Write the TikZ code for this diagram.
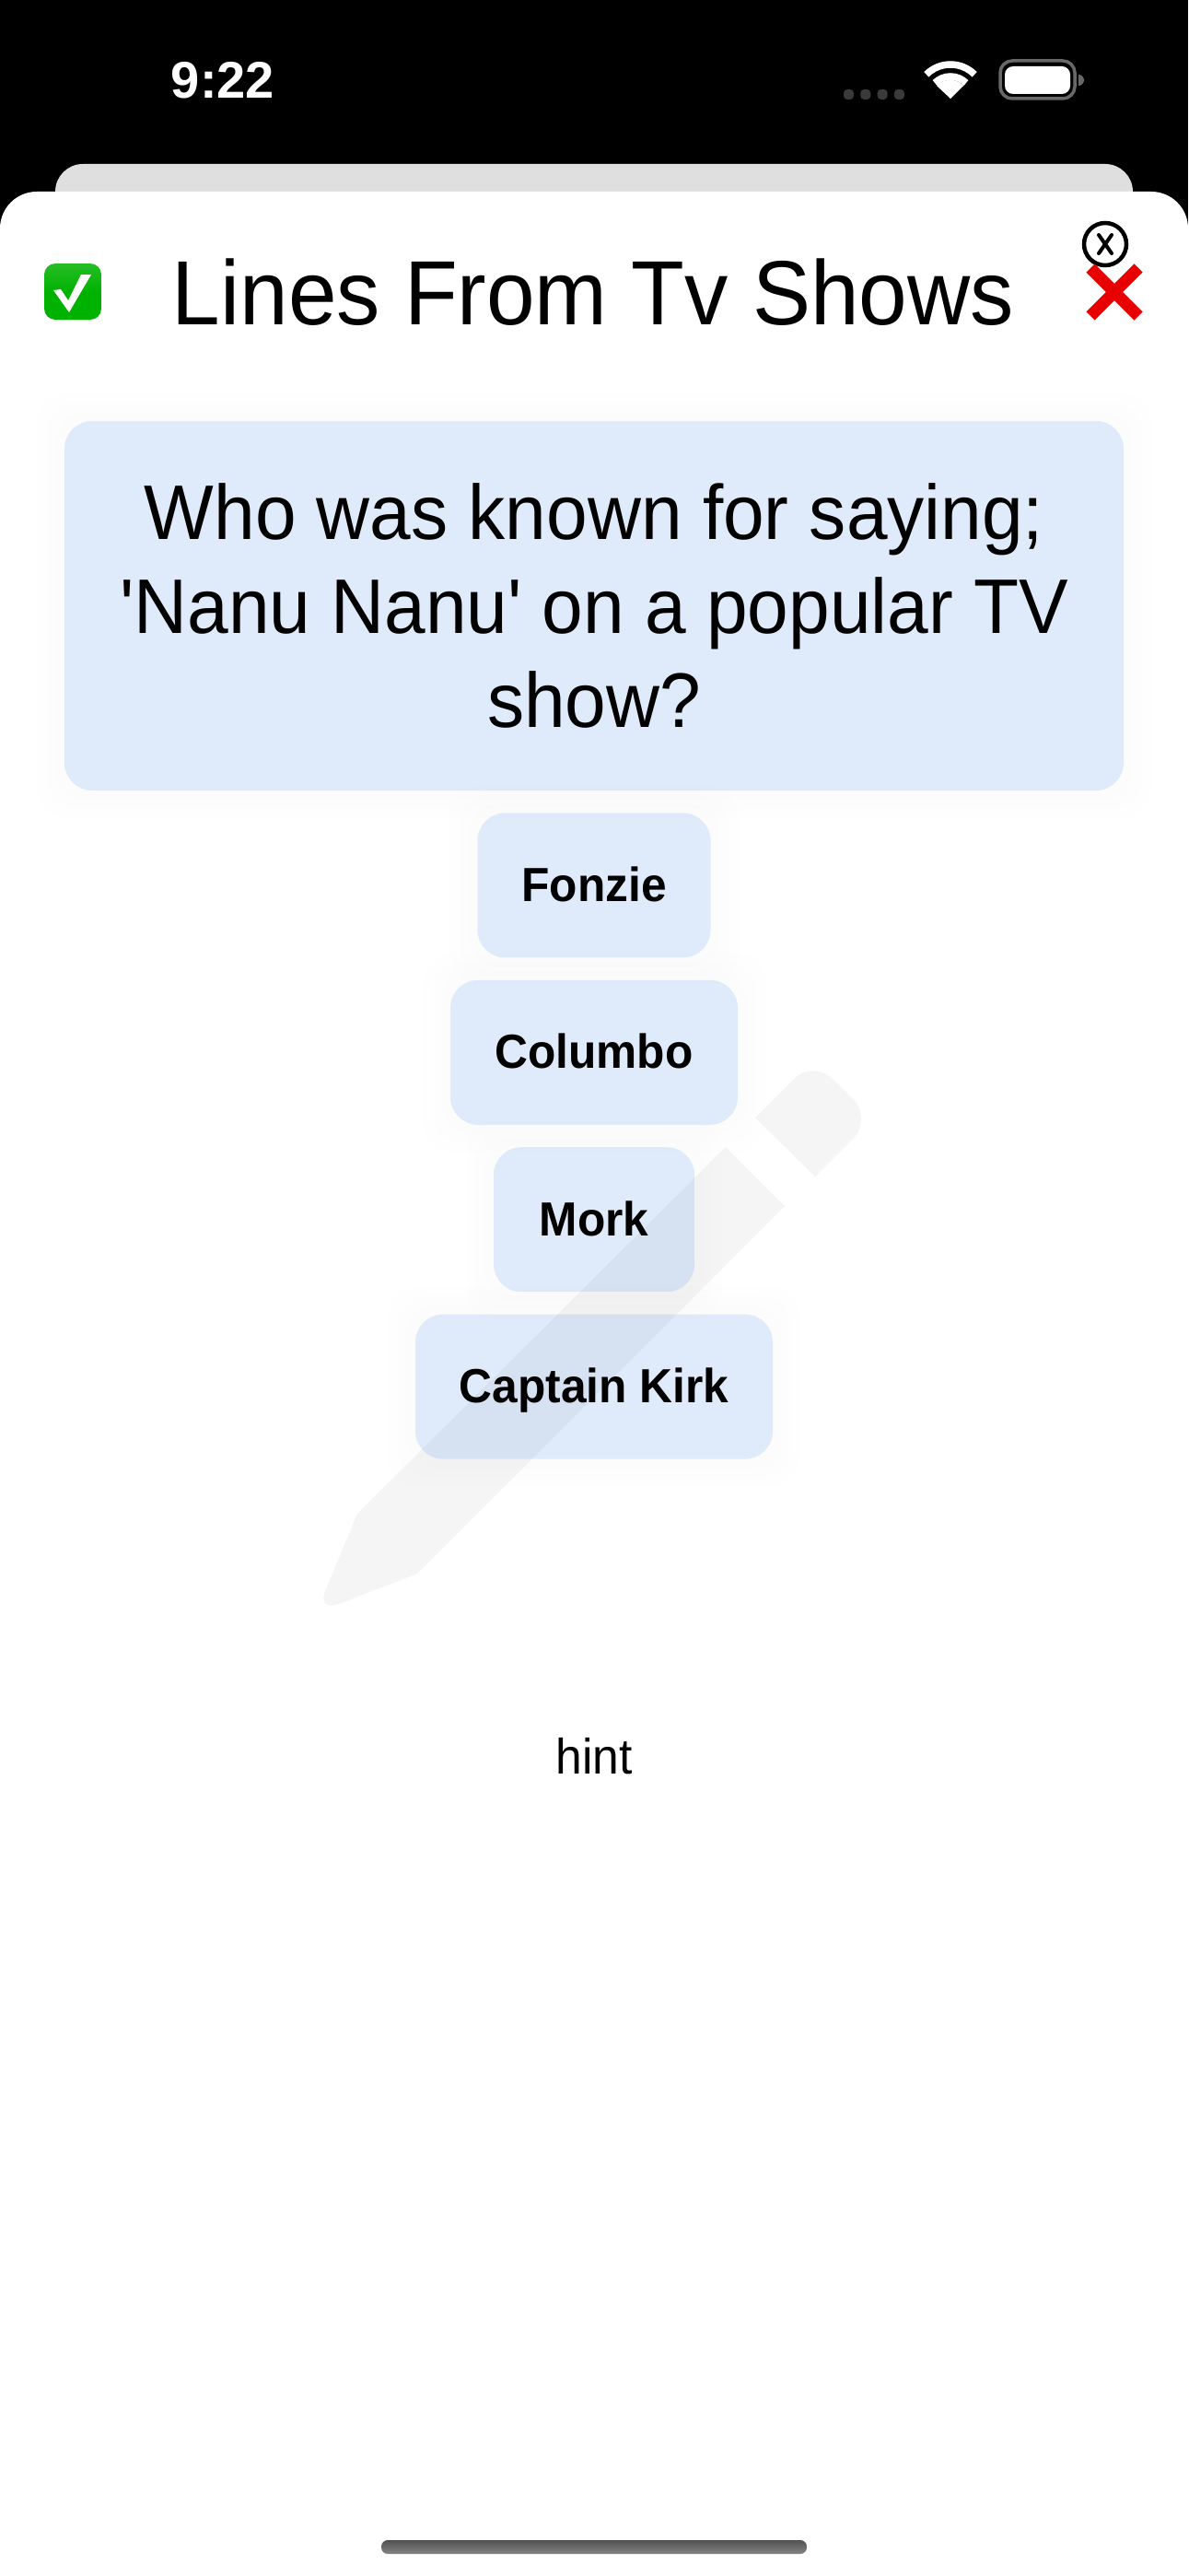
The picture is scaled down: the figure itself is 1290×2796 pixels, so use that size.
\documentclass[tikz,border=0pt]{standalone}
\usepackage{fontspec}
\setmainfont{Liberation Sans}[FakeStretch=0.955]
\newfontfamily\questionfont{Liberation Sans}[FakeStretch=0.955]
\newfontfamily\statusfont{Liberation Sans}
\usepackage{xcolor}
\usetikzlibrary{positioning, calc, backgrounds}
\definecolor{cardgray}{RGB}{223,223,223}
\definecolor{penfill}{RGB}{245,245,245}
\definecolor{boxtint}{RGB}{9,112,238}
\definecolor{dotgray}{RGB}{58,58,58}
\definecolor{batgray}{RGB}{104,104,104}
\definecolor{checkgreen}{RGB}{0,178,0}
\definecolor{crossred}{RGB}{232,0,0}
\tikzset{
  tintbox/.style={fill=boxtint, fill opacity=0.118, text opacity=1, inner sep=0pt},
  answer/.style={tintbox, rounded corners=30pt, minimum height=157pt, text height=35pt, text depth=0pt,
    font=\fontsize{52}{60}\selectfont\bfseries}
}

\begin{document}
\begin{tikzpicture}[x=1pt, y=-1pt]
  \useasboundingbox (0,0) rectangle (1290,2796);
  % Question and answers
  \node[tintbox, rounded corners=30pt, minimum width=1150pt, minimum height=401pt, align=center,
    font=\questionfont\fontsize{84}{102}\selectfont] (question) at (645,657.5)
    {Who was known for saying;\\'Nanu Nanu' on a popular TV\\show?};
  \node[answer, minimum width=253pt, below=24pt of question] (fonzie) {Fonzie};
  \node[answer, minimum width=312pt, below=24pt of fonzie] (columbo) {Columbo};
  \node[answer, minimum width=218pt, below=24pt of columbo] (mork) {Mork};
  \node[answer, minimum width=388pt, below=24pt of mork] (kirk) {Captain Kirk};
  \node[font=\fontsize{54}{60}\selectfont, anchor=base] (hint) at (645,1925) {hint};
  % Title row
  \node[font=\fontsize{99}{110}\selectfont, anchor=base] (title) at (644,352) {Lines From Tv Shows};
  \shade[top color=checkgreen!85!white, bottom color=checkgreen, middle color=checkgreen, rounded corners=12pt]
    (48,286) rectangle (110,347);
  \fill[white] (58,315) -- (66,314) -- (74,326) -- (88,298) -- (99,298) -- (75,339) -- cycle;
  \node[circle, draw, line width=4.5pt, minimum size=46pt, inner sep=0pt] (closering) at (1200,265) {};
  \draw[line width=4pt, line cap=round] ($(closering)+(-7,-10)$) -- ($(closering)+(7,10)$);
  \draw[line width=4pt, line cap=round] ($(closering)+(7,-10)$) -- ($(closering)+(-7,10)$);
  \draw[crossred, line width=13pt] (1184,291) -- (1236,343);
  \draw[crossred, line width=13pt] (1236,291) -- (1184,343);
  % Status bar
  \node[white, font=\statusfont\fontsize{56}{60}\selectfont\bfseries, anchor=base] (clock) at (242,107) {9:22};
  \foreach \dx in {0,18.3,36.6,54.9}
    \fill[dotgray, rounded corners=4pt] (916+\dx,97) rectangle ++(11,11);
  \coordinate (wifi) at (1032,107);
  \fill[white] (wifi) -- ++(-15,-14) arc[start angle=-137, end angle=-43, radius=20] -- cycle;
  \foreach \r in {24,37}
    \draw[white, line width=7.5pt, shift={(wifi)}] (-45:\r) arc[start angle=-45, end angle=-135, radius=\r];
  \draw[batgray, line width=3.5pt, rounded corners=13pt] (1086,66) rectangle (1167,107);
  \fill[white, rounded corners=9pt] (1091,72) rectangle (1162,102);
  \fill[batgray, rounded corners=2pt] (1171,80) -- (1171,94) -- (1177,90) -- (1177,84) -- cycle;
  \shade[top color=black!68, bottom color=black!48, rounded corners=7pt] (414,2757) rectangle (876,2772);
  % Everything behind the nodes
  \begin{scope}[on background layer]
    \fill[black] (0,0) rectangle (1290,2796);
    \fill[cardgray] (60,209) [rounded corners=30pt] -- (60,178) -- (1230,178) [sharp corners] -- (1230,209) -- cycle;
    \fill[white] (0,2796) [rounded corners=40pt] -- (0,208) -- (1290,208) [sharp corners] -- (1290,2796) -- cycle;
    % pen cap and body
    \fill[penfill] (820,1213) [rounded corners=30pt] -- (883,1150) -- (947.5,1214.5) [sharp corners] -- (885,1277) -- cycle;
    \fill[penfill] (788,1245) -- (852,1309) -- (453,1708) [rounded corners=26pt] -- (343.3,1750.4) [sharp corners] -- (388,1643) -- cycle;
    \foreach \n in {question,fonzie,columbo,mork,kirk}
      \foreach \k in {10,20,30}
        \fill[black, fill opacity=0.004, rounded corners=34pt]
          ($(\n.south west)+(-\k,\k)$) rectangle ($(\n.north east)+(\k,-\k)$);
  \end{scope}
\end{tikzpicture}
\end{document}
